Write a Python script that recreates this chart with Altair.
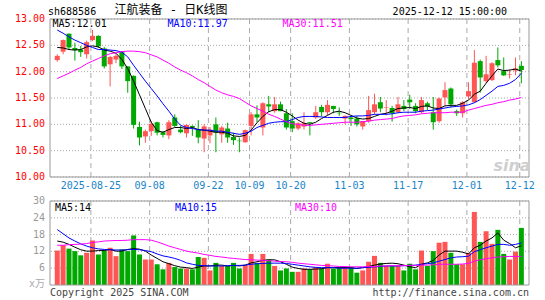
import altair as alt
import pandas as pd

# ---------------- data ----------------
holidays = {"2025-10-01", "2025-10-02", "2025-10-03", "2025-10-06", "2025-10-07", "2025-10-08"}
dates = [d.strftime("%Y-%m-%d") for d in pd.bdate_range("2025-08-15", "2025-12-12")
         if d.strftime("%Y-%m-%d") not in holidays]

opens = [12.22, 12.38, 12.72, 12.45, 12.42, 12.33, 12.60, 12.68, 12.44, 12.14,
         12.23, 12.37, 12.10, 11.92, 10.95, 10.77, 10.87, 11.04, 10.85, 10.79,
         11.13, 10.90, 10.83, 10.97, 10.90, 10.73, 10.79, 11.00, 10.81, 10.92,
         10.76, 10.69, 10.66, 10.97, 11.19, 10.94, 11.38, 11.25, 11.38, 11.21,
         11.06, 10.92, 10.96, 11.04, 11.13, 11.33, 11.23, 11.35, 11.22, 11.11,
         11.13, 11.11, 10.96, 11.06, 11.23, 11.42, 11.31, 11.31, 11.23, 11.35,
         11.47, 11.35, 11.23, 11.40, 11.23, 11.06, 11.51, 11.68, 11.25, 11.21,
         11.53, 11.42, 12.20, 11.82, 11.84, 12.22, 12.01, 11.94, 12.02, 12.11]
highs = [12.33, 12.61, 12.73, 12.55, 12.49, 12.59, 12.79, 12.69, 12.47, 12.30,
         12.33, 12.39, 12.10, 11.93, 11.05, 10.90, 11.06, 11.05, 10.87, 11.08,
         11.19, 10.97, 11.00, 10.98, 11.08, 11.00, 10.95, 11.13, 10.97, 11.03,
         10.84, 10.75, 10.90, 11.23, 11.36, 11.42, 11.54, 11.52, 11.43, 11.29,
         11.21, 11.04, 11.23, 11.04, 11.35, 11.37, 11.46, 11.35, 11.32, 11.17,
         11.16, 11.16, 11.06, 11.54, 11.58, 11.52, 11.46, 11.35, 11.52, 11.46,
         11.56, 11.40, 11.52, 11.43, 11.52, 11.51, 11.80, 11.70, 11.28, 11.44,
         11.80, 12.41, 12.23, 12.30, 12.18, 12.46, 12.27, 12.04, 12.27, 12.20]
lows = [12.19, 12.33, 12.42, 12.21, 12.28, 12.25, 12.58, 12.45, 12.06, 11.72,
        12.16, 12.05, 11.60, 10.92, 10.60, 10.65, 10.78, 10.79, 10.75, 10.72,
        10.95, 10.83, 10.75, 10.78, 10.64, 10.47, 10.64, 10.47, 10.65, 10.65,
        10.61, 10.47, 10.65, 10.79, 11.04, 10.79, 11.23, 11.22, 11.25, 10.90,
        10.85, 10.89, 10.90, 10.79, 11.10, 11.15, 11.17, 11.21, 11.16, 11.00,
        10.97, 10.96, 10.90, 11.03, 11.19, 11.23, 11.17, 11.05, 11.21, 11.25,
        11.29, 11.21, 11.21, 11.27, 10.90, 11.03, 11.35, 11.32, 11.16, 11.13,
        11.47, 11.41, 11.60, 11.79, 11.82, 12.08, 11.92, 11.87, 11.93, 11.78]
closes = [12.30, 12.60, 12.46, 12.41, 12.37, 12.56, 12.68, 12.48, 12.10, 12.28,
          12.30, 12.10, 11.82, 10.99, 10.75, 10.87, 11.01, 10.84, 10.80, 11.04,
          10.97, 10.85, 10.99, 10.94, 10.75, 10.96, 10.90, 10.84, 10.94, 10.75,
          10.70, 10.68, 10.89, 11.19, 11.13, 11.40, 11.34, 11.38, 11.25, 10.94,
          10.92, 11.02, 11.02, 11.02, 11.23, 11.23, 11.37, 11.29, 11.21, 11.16,
          11.10, 11.00, 11.06, 11.27, 11.38, 11.30, 11.32, 11.21, 11.38, 11.29,
          11.42, 11.25, 11.46, 11.34, 11.04, 11.49, 11.65, 11.38, 11.21, 11.42,
          11.63, 12.17, 11.89, 11.95, 12.16, 12.12, 11.93, 11.95, 12.06, 12.03]

ma5 = [12.46, 12.45, 12.42, 12.41, 12.42, 12.47, 12.49, 12.47, 12.41, 12.39,
       12.35, 12.23, 12.06, 11.82, 11.56, 11.30, 11.04, 10.88, 10.85, 10.90,
       10.94, 10.94, 10.92, 10.94, 10.90, 10.89, 10.87, 10.85, 10.85, 10.83,
       10.78, 10.77, 10.79, 10.89, 11.03, 11.15, 11.24, 11.28, 11.28, 11.23,
       11.16, 11.08, 11.02, 11.00, 11.04, 11.11, 11.17, 11.23, 11.25, 11.22,
       11.17, 11.12, 11.10, 11.11, 11.15, 11.19, 11.21, 11.25, 11.30, 11.31,
       11.32, 11.30, 11.34, 11.35, 11.31, 11.30, 11.35, 11.36, 11.36, 11.40,
       11.46, 11.57, 11.63, 11.78, 11.92, 12.05, 12.02, 12.03, 12.05, 12.01]
ma10 = [12.79, 12.73, 12.66, 12.60, 12.55, 12.50, 12.46, 12.42, 12.42, 12.41,
        12.40, 12.37, 12.28, 12.12, 11.97, 11.82, 11.68, 11.54, 11.39, 11.25,
        11.10, 10.98, 10.94, 10.92, 10.90, 10.89, 10.89, 10.87, 10.87, 10.85,
        10.83, 10.81, 10.83, 10.87, 10.94, 10.98, 11.02, 11.04, 11.05, 11.05,
        11.09, 11.13, 11.15, 11.15, 11.15, 11.14, 11.13, 11.13, 11.13, 11.13,
        11.15, 11.16, 11.16, 11.17, 11.19, 11.19, 11.19, 11.20, 11.22, 11.23,
        11.23, 11.23, 11.25, 11.26, 11.27, 11.29, 11.31, 11.33, 11.34, 11.35,
        11.37, 11.41, 11.47, 11.55, 11.63, 11.72, 11.74, 11.78, 11.85, 11.97]
ma30 = [11.87, 11.92, 11.97, 12.03, 12.08, 12.15, 12.20, 12.25, 12.30, 12.34,
        12.36, 12.38, 12.39, 12.39, 12.38, 12.36, 12.32, 12.28, 12.22, 12.16,
        12.09, 12.03, 11.98, 11.92, 11.85, 11.79, 11.72, 11.65, 11.60, 11.56,
        11.53, 11.49, 11.42, 11.35, 11.30, 11.25, 11.19, 11.15, 11.10, 11.05,
        11.01, 11.00, 10.98, 10.98, 10.99, 11.00, 11.01, 11.02, 11.03, 11.04,
        11.04, 11.04, 11.05, 11.06, 11.08, 11.09, 11.10, 11.11, 11.14, 11.16,
        11.17, 11.18, 11.20, 11.21, 11.22, 11.22, 11.22, 11.23, 11.23, 11.23,
        11.27, 11.30, 11.33, 11.36, 11.38, 11.41, 11.43, 11.46, 11.48, 11.51]

volumes = [12.3, 14.2, 13.0, 12.1, 10.6, 11.5, 15.9, 10.9, 12.3, 13.3,
           10.3, 12.7, 12.1, 17.7, 10.9, 9.1, 9.1, 7.4, 5.6, 7.9,
           6.4, 5.9, 5.9, 5.6, 10.0, 9.7, 5.2, 7.9, 6.8, 6.8,
           7.9, 5.9, 7.1, 11.1, 7.9, 11.1, 9.1, 6.8, 5.2, 5.9,
           4.7, 4.7, 5.9, 5.6, 6.4, 5.9, 7.6, 5.9, 6.2, 6.4,
           6.4, 4.4, 5.2, 8.3, 10.4, 7.9, 6.8, 6.8, 6.8, 5.2,
           7.6, 5.6, 12.3, 6.8, 12.1, 15.1, 15.4, 11.5, 7.4, 7.4,
           11.5, 26.1, 15.4, 19.2, 14.7, 19.7, 11.1, 9.1, 11.9, 20.4]
vma5 = [15.7, 15.3, 14.5, 13.5, 12.6, 12.1, 12.1, 12.3, 12.3, 12.7,
        12.1, 12.1, 12.7, 13.0, 12.8, 12.1, 10.7, 9.5, 8.3, 7.6,
        6.9, 6.4, 6.2, 5.9, 6.4, 6.8, 6.8, 7.1, 7.1, 6.8,
        7.0, 6.8, 7.1, 7.9, 8.3, 8.8, 9.0, 9.0, 8.3, 7.4,
        6.4, 5.9, 5.6, 5.6, 5.7, 5.8, 6.2, 6.2, 6.2, 6.2,
        6.2, 5.9, 6.2, 6.6, 7.1, 7.5, 7.7, 7.8, 7.6, 7.1,
        6.5, 6.2, 7.4, 7.9, 8.8, 10.7, 12.1, 12.1, 12.1, 11.7,
        11.1, 13.3, 14.2, 15.7, 16.8, 18.6, 16.0, 14.8, 13.3, 14.0]
vma10 = [19.8, 18.3, 16.8, 15.7, 14.7, 13.9, 13.3, 12.9, 12.7, 12.6,
         12.5, 12.5, 12.6, 12.7, 12.6, 12.3, 11.9, 11.1, 10.4, 10.0,
         9.5, 8.8, 7.9, 7.4, 7.0, 6.9, 6.8, 6.8, 6.8, 6.9,
         7.0, 7.0, 7.1, 7.4, 7.6, 7.7, 7.8, 7.8, 7.8, 7.7,
         7.4, 7.1, 6.8, 6.5, 6.3, 6.2, 6.2, 6.2, 6.0, 6.0,
         6.0, 6.0, 6.2, 6.3, 6.5, 6.6, 6.8, 6.8, 6.8, 6.9,
         7.0, 7.1, 7.4, 7.6, 7.9, 8.5, 9.1, 9.7, 10.0, 10.1,
         10.3, 11.9, 12.6, 13.3, 13.9, 14.5, 14.5, 14.2, 14.5, 15.0]
vma30 = [14.2, 14.2, 14.4, 14.5, 14.6, 14.8, 15.2, 15.4, 15.7, 15.8,
         15.9, 15.9, 16.0, 16.2, 16.2, 16.2, 16.0, 15.4, 14.7, 13.9,
         13.3, 12.7, 12.1, 11.7, 11.4, 10.9, 10.6, 10.2, 10.0, 9.7,
         9.5, 9.3, 9.1, 9.0, 8.9, 8.8, 8.7, 8.5, 8.4, 8.3,
         8.1, 7.8, 7.6, 7.4, 7.2, 7.0, 6.9, 6.8, 6.6, 6.6,
         6.5, 6.5, 6.5, 6.6, 6.6, 6.8, 6.8, 6.9, 6.9, 6.9,
         7.0, 7.0, 7.1, 7.1, 7.2, 7.4, 7.4, 7.4, 7.4, 7.5,
         7.7, 8.5, 9.0, 9.4, 9.7, 10.0, 10.1, 10.2, 10.2, 10.2]

tick_dates = ["2025-08-25", "2025-09-08", "2025-09-22", "2025-10-09", "2025-10-20",
              "2025-11-03", "2025-11-17", "2025-12-01", "2025-12-12"]
tick_labels = ["2025-08-25", "09-08", "09-22", "10-09", "10-20", "11-03", "11-17", "12-01", "12-12"]
price_ticks = [10.0, 10.5, 11.0, 11.5, 12.0, 12.5, 13.0]
volume_ticks = [6, 12, 18, 24, 30]

# ---------------- tables ----------------
n = len(closes)
df = pd.DataFrame({"i": range(n), "date": dates[:n], "open": opens, "high": highs,
                   "low": lows, "close": closes, "volume": volumes})
df["dir"] = ["up" if c >= o else "down" for o, c in zip(opens, closes)]

ma_df = pd.concat([pd.DataFrame({"i": range(n), "value": v, "series": s})
                   for s, v in (("MA5", ma5), ("MA10", ma10), ("MA30", ma30))])
vma_df = pd.concat([pd.DataFrame({"i": range(n), "value": v, "series": s})
                    for s, v in (("MA5", vma5), ("MA10", vma10), ("MA30", vma30))])
tick_df = pd.DataFrame({"i": [dates.index(d) for d in tick_dates], "label": tick_labels})

# ---------------- styles ----------------
W, H = 479, 266
PH = 158          # price panel height
VT, VB = 182, 266  # volume panel top / bottom
MONO = "DejaVu Sans Mono"
RED, GREEN = "#ff5555", "#00a800"
GRID = "#aaaaaa"

xsc = alt.Scale(domain=[-0.383, 79.45], nice=False, zero=False)
psc = alt.Scale(domain=[10, 13], range=[PH, 0], nice=False, zero=False)
vsc = alt.Scale(domain=[0, 30], range=[VB, VT], nice=False, zero=False)
X = alt.X("i:Q", scale=xsc, axis=None)
dir_color = alt.Color("dir:N", scale=alt.Scale(domain=["up", "down"], range=[RED, GREEN]), legend=None)
ma_stroke = alt.Stroke("series:N", scale=alt.Scale(domain=["MA5", "MA10", "MA30"],
                                                   range=["#000000", "#0000ff", "#ff00ff"]), legend=None)
one = pd.DataFrame({"k": [0]})


def txt(s, x, y, color="#000000", size=10, align="left", font=MONO, baseline="middle", **kw):
    return alt.Chart(pd.DataFrame({"t": [s]})).mark_text(
        align=align, baseline=baseline, font=font, fontSize=size, color=color, **kw
    ).encode(x=alt.value(x), y=alt.value(y), text="t:N")


# ---------------- price panel ----------------
p_grid = alt.Chart(pd.DataFrame({"v": price_ticks})).mark_rule(
    color=GRID, strokeDash=[1, 2]).encode(y=alt.Y("v:Q", scale=psc, axis=None))
p_labels = alt.Chart(pd.DataFrame({"v": price_ticks})).mark_text(
    align="right", baseline="middle", font=MONO, fontSize=10, color="#ff0000"
).encode(y=alt.Y("v:Q", scale=psc, axis=None), x=alt.value(-5), text=alt.Text("v:Q", format=".2f"))
p_vlines = alt.Chart(tick_df).mark_rule(color=GRID, strokeDash=[5, 4], xOffset=-1.6).encode(
    x=X, y=alt.value(0), y2=alt.value(PH))
date_text = alt.Chart(tick_df).mark_text(
    align="center", baseline="middle", font=MONO, fontSize=10, color="#1a85c8", dx=-1.6
).encode(x=X, y=alt.value(PH + 8.5), text="label:N")
wick = alt.Chart(df).mark_rule(strokeWidth=1).encode(
    x=X, y=alt.Y("low:Q", scale=psc, axis=None), y2="high:Q", color=dir_color)
body = alt.Chart(df).mark_bar(size=5).encode(
    x=X, y=alt.Y("open:Q", scale=psc, axis=None), y2="close:Q", color=dir_color)
p_ma = alt.Chart(ma_df).mark_line(strokeWidth=1).encode(
    x=X, y=alt.Y("value:Q", scale=psc, axis=None), stroke=ma_stroke, detail="series:N")
p_frame = alt.Chart(one).mark_rect(fillOpacity=0, stroke="#999999", strokeWidth=1).encode(
    x=alt.value(0), x2=alt.value(W), y=alt.value(0), y2=alt.value(PH))

price = alt.layer(
    p_grid, p_vlines, wick, body, p_ma, p_frame, p_labels, date_text,
    txt("sh688586", -2, -4, baseline="alphabetic"),
    txt("江航装备 - 日K线图", 121, -5, size=12, align="center", baseline="alphabetic",
        font="DejaVu Sans Mono, Noto Sans CJK SC"),
    txt("2025-12-12 15:00:00", 457, -4, align="right", baseline="alphabetic"),
    txt(f"MA5:{ma5[-1]:.2f}", 2.5, 4.7, color="#000000"),
    txt(f"MA10:{ma10[-1]:.2f}", 117.5, 4.7, color="#0000ff"),
    txt(f"MA30:{ma30[-1]:.2f}", 232.5, 4.7, color="#ff00ff"),
    txt("sina", 462, 147, color="#cfcfcf", size=16, align="center", font="DejaVu Sans",
        fontStyle="italic", fontWeight="bold"),
)

# ---------------- volume panel ----------------
v_grid = alt.Chart(pd.DataFrame({"v": volume_ticks})).mark_rule(
    color=GRID, strokeDash=[1, 2]).encode(y=alt.Y("v:Q", scale=vsc, axis=None))
v_labels = alt.Chart(pd.DataFrame({"v": volume_ticks})).mark_text(
    align="right", baseline="middle", font=MONO, fontSize=10, color="#999999"
).encode(y=alt.Y("v:Q", scale=vsc, axis=None), x=alt.value(-5), text=alt.Text("v:Q", format="d"))
v_vlines = alt.Chart(tick_df).mark_rule(color=GRID, strokeDash=[5, 4], xOffset=-1.6).encode(
    x=X, y=alt.value(VT), y2=alt.value(VB))
vbars = alt.Chart(df).mark_bar(size=5).encode(
    x=X, y=alt.Y("volume:Q", scale=vsc, axis=None), y2=alt.datum(0), color=dir_color)
v_ma = alt.Chart(vma_df).mark_line(strokeWidth=1).encode(
    x=X, y=alt.Y("value:Q", scale=vsc, axis=None), stroke=ma_stroke, detail="series:N")
v_frame = alt.Chart(one).mark_rect(fillOpacity=0, stroke="#999999", strokeWidth=1).encode(
    x=alt.value(0), x2=alt.value(W), y=alt.value(VT), y2=alt.value(VB))

volume = alt.layer(
    v_grid, v_vlines, vbars, v_ma, v_frame, v_labels,
    txt(f"MA5:{vma5[-1]:.0f}", 5, VT + 7, color="#000000"),
    txt(f"MA10:{vma10[-1]:.0f}", 125, VT + 7, color="#0000ff"),
    txt(f"MA30:{vma30[-1]:.0f}", 245, VT + 7, color="#ff00ff"),
    txt("x万", -5, VB - 1, color="#aaaaaa", align="right", font="DejaVu Sans Mono, Noto Sans CJK SC"),
    txt("Copyright 2025 SINA.COM", 0, VB + 8, color="#444444"),
    txt("http://finance.sina.com.cn", 479, VB + 8, color="#444444", align="right"),
)

chart = alt.layer(price, volume).resolve_scale(y="independent").properties(
    width=W, height=H,
    autosize=alt.AutoSizeParams(type="none"),
    padding={"left": 50, "top": 19, "right": 16, "bottom": 15},
).configure_view(stroke="transparent")

chart.save("out.html", embed_options={"renderer": "svg", "actions": False})
